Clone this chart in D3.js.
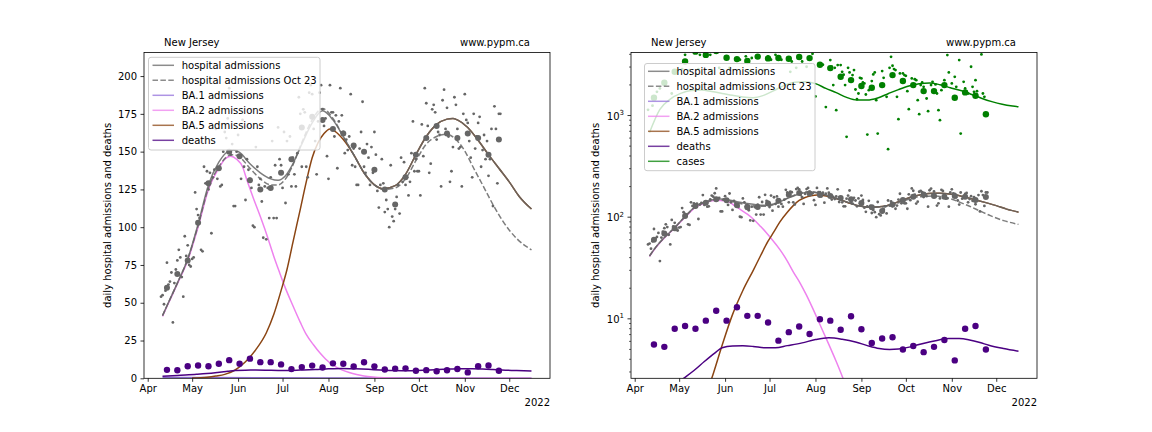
<!DOCTYPE html>
<html><head><meta charset="utf-8">
<script src="https://cdn.jsdelivr.net/npm/d3@7"></script>
<style>body{margin:0;background:#fff;} text{font-family:"DejaVu Sans",sans-serif;}</style>
</head><body><svg id="c" width="1152" height="432"></svg>
<script>
// ---------------- data (day offsets from 2022-04-01) ----------------
const monthTickLabels = ["Apr","May","Jun","Jul","Aug","Sep","Oct","Nov","Dec"];
const linearTicks = [0,25,50,75,100,125,150,175,200];
const logMajorTicks = [10,100,1000];
const logMinorTicks = [3,4,5,6,7,8,9,20,30,40,50,60,70,80,90,200,300,400,500,600,700,800,900,2000,3000,4000];

// daily hospital admissions, consecutive days starting at day 9 (Apr 10)
const hospDailyStart = 9;
const hospDaily = [
 54,55,49,58,76.5,62,64,70,37,63,
 72,78,85,80,67,54,94,81,88,75,
 74,79,80,123,112,108,106,85,84,140,
 129,137,125,136,96,133,138,165,132,139,
 127,128,150,163,159,172,192,148,155,114,
 114,150,161,146,132,171,140,118,145,138,
 132,126,101,100,153,140,128,132,117,93,
 127,92,126,106,133,157,106,141,106,166,
 145,141,126,163,116,157,135,160,127,146,
 135,127,149,186,175,140,178,176,140,133,
 189,194,188,165,157,135,170,189,194,178,
 167,172,147,132,194,176,176,160,174,139,
 170,192,174,163,149,158,151,160,188,141,
 152,140,128,128,152,163,183,140,136,155,
 146,128,153,136,163,148,124,113,128,145,
 129,110,118,112,100,141,107,104,112,120,
 128,109,146,130,143,128,133,121,130,149,
 170,137,145,137,137,121,168,147,192,182,
 167,136,142,178,181,176,158,163,161,127,
 184,191,165,179,160,130,137,153,186,181,
 165,152,153,127,175,188,171,169,157,146,
 133,175,152,160,169,173,140,151,161,145,
 157,134,145,165,114,180,165,129,175,175];

// weekly values, starting day 13 (Apr 14), every 7 days
const weeklyStart = 13;
const hospWeekly = [60,69,78,103,129,139,150,147,131,125,126,136,145,166,173,171,165,162,154,150,138,125,115,133,148,159,167,162,159,162,159,148,158];
const deathsWeekly = [5.6,5.3,8.0,8.5,8.0,9.6,12.0,9.6,13.0,10.7,10.7,9.2,6.1,7.4,8.4,7.1,9.9,9.6,7.8,10.6,7.9,5.8,6.4,6.6,5.0,5.4,4.7,5.3,6.2,3.9,8.0,8.5,5.0];
const casesWeekly = [1500,2100,2700,3400,4250,3950,4300,3700,3590,3435,3800,3650,3680,3620,3760,3675,3160,2930,2405,2232,1950,1875,1993,2500,2183,1993,1740,1740,1993,1494,1688,1563,1031];

// daily cases (sparse readings)
const casesDailyDays = [9,12,15,17,25,32,34,37,43,44,51,52,57,64,71,75,78,79,82,87,90,92,95,99,105,106,109,113,116,120,122,127,129,132,133,134,135,136,137,139,140,141,142,143,144,145,147,148,149,150,151,152,153,154,155,156,157,158,160,161,162,163,164,167,168,170,171,172,173,174,175,176,177,178,179,181,182,183,184,185,187,189,190,191,192,193,194,195,197,198,200,201,203,204,205,206,207,208,209,211,212,214,216,217,219,220,222,223,225,227,228,229,230,231,234,235,236];
const casesDaily = [1138,1250,1711,1846,1648,2865,3960,2800,2865,3960,3960,2800,2950,2950,3540,3820,2736,3680,2693,2800,3820,3540,3960,3540,2693,3400,2950,3400,3020,4055,1540,3160,1210,3515,3020,1992,2950,1129,3135,3135,2693,2520,1992,617,2950,2654,2500,2800,1804,1449,1648,2350,2316,2115,2068,1611,650,1777,2181,2535,2654,1416,665,2736,2350,1528,467,2950,3785,3090,2865,2800,1528,921,2594,2594,2500,2461,1738,1155,2316,2281,2230,1416,1031,1992,2115,1918,1471,1104,1992,2148,2022,1648,1129,900,1777,1992,2230,3935,2654,2068,2405,1918,3515,665,2148,1846,1648,3020,1918,1711,2230,1738,3990,1648,1528];

// model curves
const hospModelDays = [10,13,20,27,34,41,48,55,58,62,69,76,83,88,93,97,104,111,118,125,132,139,146,153,159,167,174,181,188,195,202,206,209,216,223,230,237,244,251,259];
const hospModel     = [41.5,48,63,79,102,128,143,150.5,151,149.5,142,136,132,131,134,140,155,169,177,171,160,148,136,128,125.5,127.5,135,148,160,168,171.5,172,171,166,157.5,148,139,130,120,112];
const hospOctDays = [10,13,20,27,34,41,48,55,58,62,69,76,83,88,93,97,104,111,118,125,132,139,146,153,159,167,174,181,188,195,202,208,213,220,226,233,240,249,259];
const hospOct     = [41.5,48,63,79,101,126,140,147.5,148,146.5,139,132,128,128,132,139,156,171,178.5,172,160,148,136,128,125,126,132,144,155,160,161.5,158,152,139,128,115,103.5,92.5,85];
const ba1Days = [10,40,80,120,160,200,259];
const ba1     = [0.6,0.45,0.3,0.22,0.16,0.12,0.08];
const ba2Days = [10,13,20,27,34,41,48,52,56,60,64,67,71,76,80,85,89,92,98,103,107,112,116,120,125,131,136,141,146,152,160,170,190,259];
const ba2     = [41,47.5,62.5,78,100,125,139,145,147,145,140,131,120,107,96,81,70,62,48,37,29,22,17,12.8,8.8,5.6,3.8,2.5,1.55,0.85,0.33,0.09,0.01,0.0001];
const ba5Days = [30,40,46,52,59,66,73,80,85,90,94,98,103,107,111,115,119,123,127,132,139,146,153,159,167,174,181,188,195,202,206,209,216,223,230,237,244,251,259];
const ba5     = [0.15,0.7,1.5,2.6,5.5,11,19,30,42,58,72,90,112,130,146,156,162,165,163,158,148,136,128,125.5,127.5,135,148,160,168,171.5,172,171,166,157.5,148,139,130,120,112];
const deathsModelDays = [10,20,33,40,47,54,59,66,73,80,88,95,103,113,122,131,140,149,157,165,172,178,186,194,203,212,219,226,233,239,249,259];
const deathsModel     = [1.3,1.9,2.6,3.1,3.8,4.6,5.2,5.4,5.42,5.35,5.2,5.2,5.45,5.8,6.25,6.5,6.3,5.93,5.45,5.1,5.0,5.05,5.3,5.7,6.1,6.4,6.4,6.2,5.85,5.5,5.1,4.8];
const casesModelDays = [10,17,24,31,38,45,52,59,66,73,80,87,94,101,108,115,122,129,136,143,150,157,164,171,178,185,192,199,206,213,220,227,234,241,248,255,259];
const casesModel     = [680,1150,1450,1650,1760,1780,1720,1650,1580,1520,1500,1580,1760,1980,2120,2150,2060,1850,1680,1510,1420,1420,1490,1640,1800,1950,2050,2090,2010,1880,1760,1620,1480,1370,1290,1240,1220];

// ---------------- rendering ----------------
const svg = d3.select('#c');
const DAY = 864e5, t0 = Date.UTC(2022,3,1);
const dt = d => new Date(t0 + d*DAY);
const xDomain = [dt(-2.5), dt(271.5)];
const FONT = '"DejaVu Sans", sans-serif';

const C = {
  hosp:'#666666', ba1:'mediumpurple', ba2:'violet', ba5:'saddlebrown', deaths:'indigo', cases:'green', dots:'#666666'
};

function drawPanel(cfg){
  const {left,right,top,bottom,log,id,ylabelX,titleX,siteX,legendBox,legendRows,handleX,textX} = cfg;
  const g = svg.append('g');
  const x = d3.scaleUtc().domain(xDomain).range([left,right]);
  const y = log ? d3.scaleLog().domain([2.6,4170]).range([bottom,top])
                : d3.scaleLinear().domain([0,215.6]).range([bottom,top]);
  svg.append('clipPath').attr('id',id).append('rect')
    .attr('x',left).attr('y',top).attr('width',right-left).attr('height',bottom-top);
  const p = g.append('g').attr('clip-path',`url(#${id})`);
  const mk = (days) => d3.line().x((d,i)=>x(dt(days[i]))).y(d=>y(d)).curve(d3.curveMonotoneX);
  const path = (days, vals, color, opts={}) => p.append('path').attr('d', mk(days)(vals))
      .attr('fill','none').attr('stroke',color).attr('stroke-width',1.5)
      .attr('stroke-opacity', opts.op ?? 1).attr('stroke-dasharray', opts.dash || null);

  path(ba1Days, ba1, C.ba1);
  path(ba2Days, ba2, C.ba2);
  path(ba5Days, ba5, C.ba5);
  path(deathsModelDays, deathsModel, C.deaths);
  if (log) path(casesModelDays, casesModel, C.cases);
  path(hospModelDays, hospModel, C.hosp, {op:0.85});
  path(hospOctDays, hospOct, C.hosp, {op:0.85, dash:'5.5,2.4'});

  // dots
  p.append('g').selectAll('circle').data(hospDaily).join('circle')
    .attr('cx',(d,i)=>x(dt(hospDailyStart+i))).attr('cy',d=>y(d)).attr('r',1.4).attr('fill',C.dots);
  p.append('g').selectAll('circle').data(hospWeekly).join('circle')
    .attr('cx',(d,i)=>x(dt(weeklyStart+7*i))).attr('cy',d=>y(d)).attr('r',3).attr('fill',C.dots);
  p.append('g').selectAll('circle').data(deathsWeekly).join('circle')
    .attr('cx',(d,i)=>x(dt(weeklyStart+7*i))).attr('cy',d=>y(d)).attr('r',3.2).attr('fill',C.deaths);
  if (log){
    p.append('g').selectAll('circle').data(casesDaily).join('circle')
      .attr('cx',(d,i)=>x(dt(casesDailyDays[i]))).attr('cy',d=>y(d)).attr('r',1.4).attr('fill',C.cases);
    p.append('g').selectAll('circle').data(casesWeekly).join('circle')
      .attr('cx',(d,i)=>x(dt(weeklyStart+7*i))).attr('cy',d=>y(d)).attr('r',3.2).attr('fill',C.cases);
  }

  // legend
  const lg = g.append('g');
  lg.append('rect').attr('x',legendBox[0]).attr('y',legendBox[1]).attr('width',legendBox[2]).attr('height',legendBox[3])
    .attr('rx',2.5).attr('fill','white').attr('fill-opacity',0.8).attr('stroke','#cccccc').attr('stroke-width',1);
  const items = [
    ['hospital admissions', C.hosp, null],
    ['hospital admissions Oct 23', C.hosp, '5.5,2.4'],
    ['BA.1 admissions', C.ba1, null],
    ['BA.2 admissions', C.ba2, null],
    ['BA.5 admissions', C.ba5, null],
    ['deaths', C.deaths, null]];
  if (log) items.push(['cases', C.cases, null]);
  items.forEach((it,i)=>{
    const cy = legendRows[0] + i*15;
    lg.append('line').attr('x1',handleX[0]).attr('x2',handleX[1]).attr('y1',cy).attr('y2',cy)
      .attr('stroke',it[1]).attr('stroke-width',1.5).attr('stroke-opacity',0.75).attr('stroke-dasharray',it[2]);
    lg.append('text').attr('x',textX).attr('y',cy+3.6).attr('font-size',10).attr('fill','#000').text(it[0]);
  });

  // x axis
  const xa = d3.axisBottom(x).ticks(d3.utcMonth.every(1)).tickFormat((d,i)=>monthTickLabels[i])
     .tickSize(3.5).tickPadding(3.5).tickSizeOuter(0);
  const gx = g.append('g').attr('transform',`translate(0,${bottom})`).call(xa);
  gx.select('.domain').remove();
  gx.selectAll('text').attr('font-size',10).attr('font-family',FONT).attr('fill','#000');
  gx.selectAll('line').attr('stroke','#000').attr('stroke-width',0.8);
  g.append('text').attr('x',right).attr('y',406).attr('text-anchor','end').attr('font-size',10).text('2022');

  // y axis
  if (!log){
    const ya = d3.axisLeft(y).tickValues(linearTicks).tickSize(3.5).tickPadding(3.5).tickSizeOuter(0);
    const gy = g.append('g').attr('transform',`translate(${left},0)`).call(ya);
    gy.select('.domain').remove();
    gy.selectAll('text').attr('font-size',10).attr('font-family',FONT).attr('fill','#000');
    gy.selectAll('line').attr('stroke','#000').attr('stroke-width',0.8);
  } else {
    const gy = g.append('g');
    gy.selectAll('line.minor').data(logMinorTicks).join('line').attr('class','minor')
      .attr('x1',left-2).attr('x2',left).attr('y1',d=>y(d)).attr('y2',d=>y(d))
      .attr('stroke','#000').attr('stroke-width',0.6);
    gy.selectAll('line.major').data(logMajorTicks).join('line').attr('class','major')
      .attr('x1',left-3.5).attr('x2',left).attr('y1',d=>y(d)).attr('y2',d=>y(d))
      .attr('stroke','#000').attr('stroke-width',0.8);
    logMajorTicks.forEach(v=>{
      const t = gy.append('text').attr('x',left-7).attr('y',y(v)+4).attr('text-anchor','end').attr('font-size',10);
      t.append('tspan').text('10');
      t.append('tspan').attr('font-size',7).attr('dy',-4.5).text(String(Math.round(Math.log10(v))));
    });
  }

  // frame
  g.append('rect').attr('x',left).attr('y',top).attr('width',right-left).attr('height',bottom-top)
    .attr('fill','none').attr('stroke','#000').attr('stroke-width',0.8);

  // labels
  g.append('text').attr('transform',`translate(${ylabelX},${(top+bottom)/2}) rotate(-90)`)
    .attr('text-anchor','middle').attr('font-size',10).text('daily hospital admissions and deaths');
  g.append('text').attr('x',titleX).attr('y',45.5).attr('font-size',10).text('New Jersey');
  g.append('text').attr('x',siteX).attr('y',45.5).attr('font-size',10).text('www.pypm.ca');
}

drawPanel({left:144,right:550,top:52.5,bottom:378.3,log:false,id:'clipL',ylabelX:111,titleX:164,siteX:460,
  legendBox:[148.5,57.3,171.5,92.7],legendRows:[65.3],handleX:[152.5,174],textX:181.7});
drawPanel({left:631,right:1037,top:52.5,bottom:378.3,log:true,id:'clipR',ylabelX:598.5,titleX:651,siteX:946,
  legendBox:[644.5,63.5,170.5,107.2],legendRows:[71.3],handleX:[648,669.5],textX:676.5});
</script></body></html>
